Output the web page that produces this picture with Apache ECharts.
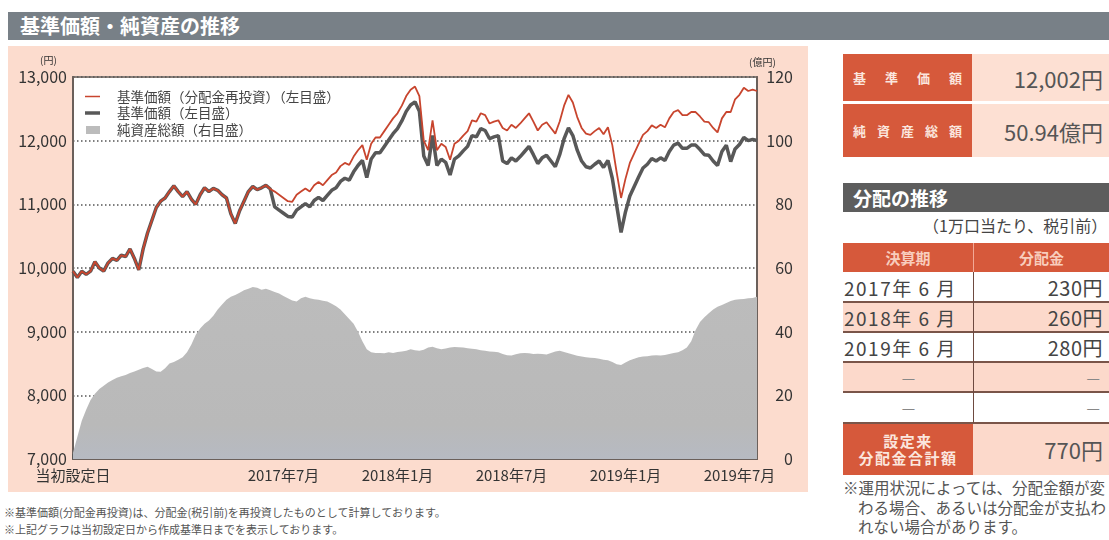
<!DOCTYPE html>
<html><head><meta charset="utf-8">
<script src="https://cdn.jsdelivr.net/npm/echarts@6/dist/echarts.min.js"></script>
<style>
html,body{margin:0;padding:0;width:1109px;height:540px;overflow:hidden;background:#fff;font-family:"Noto Sans CJK JP","Noto Sans",sans-serif;}
.abs{position:absolute;box-sizing:border-box;}
#title{left:8px;top:12px;width:1101px;height:28px;background:#788087;color:#fff;font-size:20px;line-height:28px;padding-left:12px;font-weight:bold;}
#chart{left:8px;top:46px;width:800px;height:446px;}
.lab{background:#d6593b;color:#fbe6de;font-weight:bold;font-size:13px;display:flex;justify-content:space-between;align-items:center;padding:0 10px;}
.val{background:#fde0d3;color:#555;font-size:22px;display:flex;align-items:center;justify-content:flex-end;padding-right:6px;}
#bar2{left:843px;top:183px;width:266px;height:29px;background:#5d5d5d;color:#fff;font-size:19px;font-weight:bold;line-height:29px;padding-left:10px;}
#unit{left:923px;top:216px;font-size:16px;line-height:18px;color:#444;white-space:nowrap;}
.cell{display:flex;align-items:center;font-size:19px;color:#444;white-space:nowrap;}
.hd{background:#d6593b;color:#f8cdbd;font-weight:bold;font-size:15px;justify-content:center;}
.hline{height:1.5px;background:#7a5549;left:843px;width:266px;}
.note{font-size:15.5px;line-height:19.5px;color:#555;white-space:nowrap;}
.fn{font-size:11px;line-height:17px;color:#555;white-space:nowrap;left:4px;}
</style></head>
<body>
<div id="title" class="abs">基準価額・純資産の推移</div>
<div id="chart" class="abs"></div>

<div class="abs lab" style="left:843px;top:54px;width:129px;height:47px;"><span>基</span><span>準</span><span>価</span><span>額</span></div>
<div class="abs val" style="left:972px;top:54px;width:137px;height:47px;">12,002円</div>
<div class="abs lab" style="left:843px;top:104px;width:129px;height:53px;"><span>純</span><span>資</span><span>産</span><span>総</span><span>額</span></div>
<div class="abs val" style="left:972px;top:104px;width:137px;height:53px;">50.94億円</div>

<div id="bar2" class="abs">分配の推移</div>
<div id="unit" class="abs">（1万口当たり、税引前）</div>

<div id="table"></div>

<div class="abs note" style="left:843px;top:478px;">※運用状況によっては、分配金額が変</div>
<div class="abs note" style="left:858px;top:497.5px;">わる場合、あるいは分配金が支払わ</div>
<div class="abs note" style="left:858px;top:517px;">れない場合があります。</div>

<div class="abs fn" style="top:504px;">※基準価額(分配金再投資)は、分配金(税引前)を再投資したものとして計算しております。</div>
<div class="abs fn" style="top:521px;">※上記グラフは当初設定日から作成基準日までを表示しております。</div>

<script>
// ---- data ----
const startDate = '2016-07-29';
const weekCount = 157;
const xTicks = [
  {date:'2016-07-29', label:'当初設定日'},
  {date:'2017-06-30', label:'2017年7月'},
  {date:'2017-12-29', label:'2018年1月'},
  {date:'2018-06-29', label:'2018年7月'},
  {date:'2018-12-28', label:'2019年1月'},
  {date:'2019-06-28', label:'2019年7月'}
];
const navReinvested = [
9950,9850,9950,9900,9950,10100,10000,9950,10080,10150,
10120,10200,10180,10300,10150,9970,10300,10550,10750,10950,
11050,11100,11200,11290,11200,11120,11200,11080,11000,11150,
11260,11200,11250,11220,11150,11100,10850,10700,10900,11050,
11200,11280,11230,11260,11300,11240,11200,11150,11100,11050,
11040,11150,11200,11250,11200,11300,11350,11300,11380,11460,
11500,11600,11650,11620,11750,11850,11930,11700,11950,12050,
12050,12150,12250,12350,12430,12550,12700,12800,12850,12700,
12000,11850,12320,11850,11950,11900,11700,11950,12000,12080,
12150,12320,12300,12430,12400,12270,12300,12320,12200,12160,
12250,12200,12270,12350,12430,12300,12160,12250,12290,12200,
12110,12300,12550,12720,12600,12370,12200,12110,12090,12150,
12200,12100,12210,11930,11500,11100,11400,11650,11800,11950,
12090,12150,12240,12200,12250,12210,12350,12450,12480,12400,
12400,12450,12450,12380,12300,12290,12200,12130,12350,12450,
12450,12650,12720,12830,12780,12800,12780
];
const nav = [
9950,9850,9950,9900,9950,10100,10000,9950,10080,10150,
10120,10200,10180,10300,10150,9970,10300,10550,10750,10950,
11050,11100,11200,11290,11200,11120,11200,11080,11000,11150,
11260,11200,11250,11220,11150,11100,10850,10700,10900,11050,
11200,11280,11230,11260,11300,11240,10960,10910,10860,10810,
10800,10910,10960,11010,10960,11060,11110,11060,11140,11220,
11260,11360,11410,11380,11510,11610,11690,11420,11710,11810,
11810,11910,12010,12110,12190,12310,12460,12560,12610,12460,
11760,11610,12080,11610,11710,11660,11460,11710,11760,11840,
11910,12080,12060,12190,12160,12030,12060,12080,11680,11640,
11730,11680,11750,11830,11910,11780,11640,11730,11770,11680,
11590,11780,12030,12200,12080,11850,11680,11590,11570,11630,
11680,11580,11690,11410,10980,10560,10880,11130,11280,11430,
11570,11630,11720,11680,11730,11690,11830,11930,11960,11880,
11880,11930,11930,11860,11780,11770,11680,11610,11830,11930,
11670,11870,11940,12050,12000,12020,12002
];
const netAssets = [
2,7,12,15.5,18.5,20.5,22,23,24,24.8,
25.5,26,26.4,27,27.5,28,28.6,29,28.3,27.5,
27.4,28.5,30,30.5,31.2,32,33.5,36,39,41,
42.5,43.5,45,47,48.5,50,51,51.5,52.2,53,
53.5,54,53.8,53.2,53.5,53,52.5,52,51.2,50.5,
49.8,49.5,50.5,51,50.5,50.2,50,49.7,49.5,48.8,
48,47,45.5,44,42.5,40,37,34.5,33.5,33.3,
33.3,33.2,33.5,33.3,33.6,33.8,34,34.5,34.2,34,
34.3,35,35.3,34.8,34.5,34.7,35,35.2,35.1,35,
34.8,34.6,34.5,34.2,34,33.8,33.7,33.5,33,32.6,
32.5,32.9,33.2,33.3,33.2,33,33.1,33,32.8,33.3,
33.8,34,33.6,33.2,32.8,32.4,32.2,32,31.8,31.7,
31.5,31.2,31,30.5,29.8,29.5,30.3,31,31.5,32,
32.2,32.3,32.5,32.6,32.5,32.7,33,33.3,33.5,34.2,
35,37,40.5,43,44.5,45.8,47,47.8,48.4,49,
49.6,50,50.2,50.3,50.5,50.6,50.94
];
const seriesNames = ['基準価額（分配金再投資）（左目盛）','基準価額（左目盛）','純資産総額（右目盛）'];
const distPeriods = ['2017年 6 月','2018年 6 月','2019年 6 月','—','—'];
const distAmounts = ['230円','260円','280円','—','—'];
const distTotal = '770円';

// ---- categories ----
const categories = [];
const t0 = Date.parse(startDate + 'T00:00:00Z');
for (let i = 0; i < weekCount; i++) {
  categories.push(new Date(t0 + i * 7 * 86400000).toISOString().slice(0, 10));
}
const tickMap = {};
xTicks.forEach(t => { tickMap[t.date] = t.label; });
const showTick = (i, v) => Object.prototype.hasOwnProperty.call(tickMap, categories[i]);

// ---- table ----
const tbl = document.getElementById('table');
let html = '';
html += '<div class="abs cell hd" style="left:843px;top:243px;width:130px;height:29px;">決算期</div>';
html += '<div class="abs cell hd" style="left:973px;top:243px;width:136px;height:29px;border-left:1px solid #f2a996;">分配金</div>';
distPeriods.forEach((p, i) => {
  const top = 272 + i * 30;
  const bg = (i % 2 === 1) ? '#fcd9cb' : '#fff';
  const dash = p === '—';
  html += '<div class="abs cell" style="left:843px;top:' + top + 'px;width:130px;height:30px;background:' + bg + ';padding-left:1px;letter-spacing:1.5px;' + (dash ? 'justify-content:center;color:#888;font-size:15px;letter-spacing:0;' : '') + '">' + p + '</div>';
  html += '<div class="abs cell" style="left:973px;top:' + top + 'px;width:136px;height:30px;background:' + bg + ';justify-content:flex-end;padding-right:6px;' + (dash ? 'color:#888;font-size:15px;padding-right:9px;' : 'font-size:20px;letter-spacing:0.5px;') + '">' + distAmounts[i] + '</div>';
  if (i > 0) html += '<div class="abs hline" style="top:' + (top - 1) + 'px;"></div>';
});
html += '<div class="abs hline" style="top:422px;"></div>';
html += '<div class="abs" style="left:972.5px;top:272px;width:1.5px;height:151px;background:#6e4a40;"></div>';
html += '<div class="abs" style="left:843px;top:423.5px;width:130px;height:51px;background:#d6593b;color:#fbe6de;font-weight:bold;font-size:15px;line-height:17px;text-align:center;padding-top:8px;letter-spacing:1.5px;">設定来<br>分配金合計額</div>';
html += '<div class="abs cell" style="left:973px;top:423.5px;width:136px;height:51px;background:#fcd9cb;justify-content:flex-end;padding-right:6px;font-size:22px;color:#555;">' + distTotal + '</div>';
tbl.innerHTML = html;

// ---- chart ----
const FF = '"Noto Sans CJK JP","Noto Sans",sans-serif';
const chart = echarts.init(document.getElementById('chart'), null, {renderer: 'canvas'});
chart.setOption({
  animation: false,
  backgroundColor: '#fcdcce',
  textStyle: {fontFamily: FF},
  grid: {left: 65, right: 51, top: 31, bottom: 33, show: true, backgroundColor: '#fff', borderColor: '#8a807b', borderWidth: 2, outerBoundsMode: 'none'},
  xAxis: {
    type: 'category', data: categories, boundaryGap: false,
    axisLine: {show: true, lineStyle: {color: '#6b605b', width: 2}},
    axisTick: {show: true, inside: true, length: 5, interval: showTick, lineStyle: {color: '#555', width: 1.5}},
    axisLabel: {interval: showTick, formatter: v => tickMap[v] || '', fontSize: 15, color: '#333', margin: 9, fontFamily: FF},
    splitLine: {show: false}
  },
  yAxis: [
    {type: 'value', min: 7000, max: 13000, interval: 1000, position: 'left',
     axisLine: {show: true, lineStyle: {color: '#6b605b', width: 2}},
     axisTick: {show: false},
     axisLabel: {formatter: v => v.toLocaleString('en-US'), fontSize: 16, color: '#333', margin: 6, fontFamily: FF},
     splitLine: {show: true, lineStyle: {color: '#555', type: [1.5, 2.5], width: 1.5}}},
    {type: 'value', min: 0, max: 120, interval: 20, position: 'right',
     axisLine: {show: true, lineStyle: {color: '#6b605b', width: 2}},
     axisTick: {show: false},
     axisLabel: {fontSize: 16, color: '#333', align: 'right', margin: 36, fontFamily: FF},
     splitLine: {show: false}}
  ],
  series: [
    {name: seriesNames[2], type: 'line', yAxisIndex: 1, data: netAssets, symbol: 'none',
     lineStyle: {width: 0}, z: 1,
     areaStyle: {opacity: 1, color: new echarts.graphic.LinearGradient(0, 0, 0, 1, [
       {offset: 0, color: '#bcbcbc'}, {offset: 0.8, color: '#b9b9b9'}, {offset: 1, color: '#b6bac2'}])}},
    {name: seriesNames[1], type: 'line', data: nav, symbol: 'none', z: 3,
     lineStyle: {color: '#585858', width: 3.5}},
    {name: seriesNames[0], type: 'line', data: navReinvested, symbol: 'none', z: 4,
     lineStyle: {color: '#c8452e', width: 1.8}}
  ],
  graphic: [
    {type: 'text', left: 32, top: 9, style: {text: '(円)', fontSize: 10, fill: '#333', fontFamily: FF}},
    {type: 'text', left: 741, top: 11, style: {text: '(億円)', fontSize: 10, fill: '#333', fontFamily: FF}},
    {type: 'line', z: 10, shape: {x1: 77, y1: 50.5, x2: 92, y2: 50.5}, style: {stroke: '#c8452e', lineWidth: 1.5}},
    {type: 'line', z: 10, shape: {x1: 77, y1: 67, x2: 92, y2: 67}, style: {stroke: '#585858', lineWidth: 3.5}},
    {type: 'rect', z: 10, shape: {x: 78, y: 80, width: 14, height: 8}, style: {fill: '#bcbcbc'}},
    {type: 'text', z: 10, x: 109, y: 50.5, style: {text: seriesNames[0], fontSize: 13.5, fill: '#444', fontFamily: FF, verticalAlign: 'middle'}},
    {type: 'text', z: 10, x: 109, y: 67, style: {text: seriesNames[1], fontSize: 13.5, fill: '#444', fontFamily: FF, verticalAlign: 'middle'}},
    {type: 'text', z: 10, x: 109, y: 84, style: {text: seriesNames[2], fontSize: 13.5, fill: '#444', fontFamily: FF, verticalAlign: 'middle'}}
  ]
});
</script>
</body></html>
